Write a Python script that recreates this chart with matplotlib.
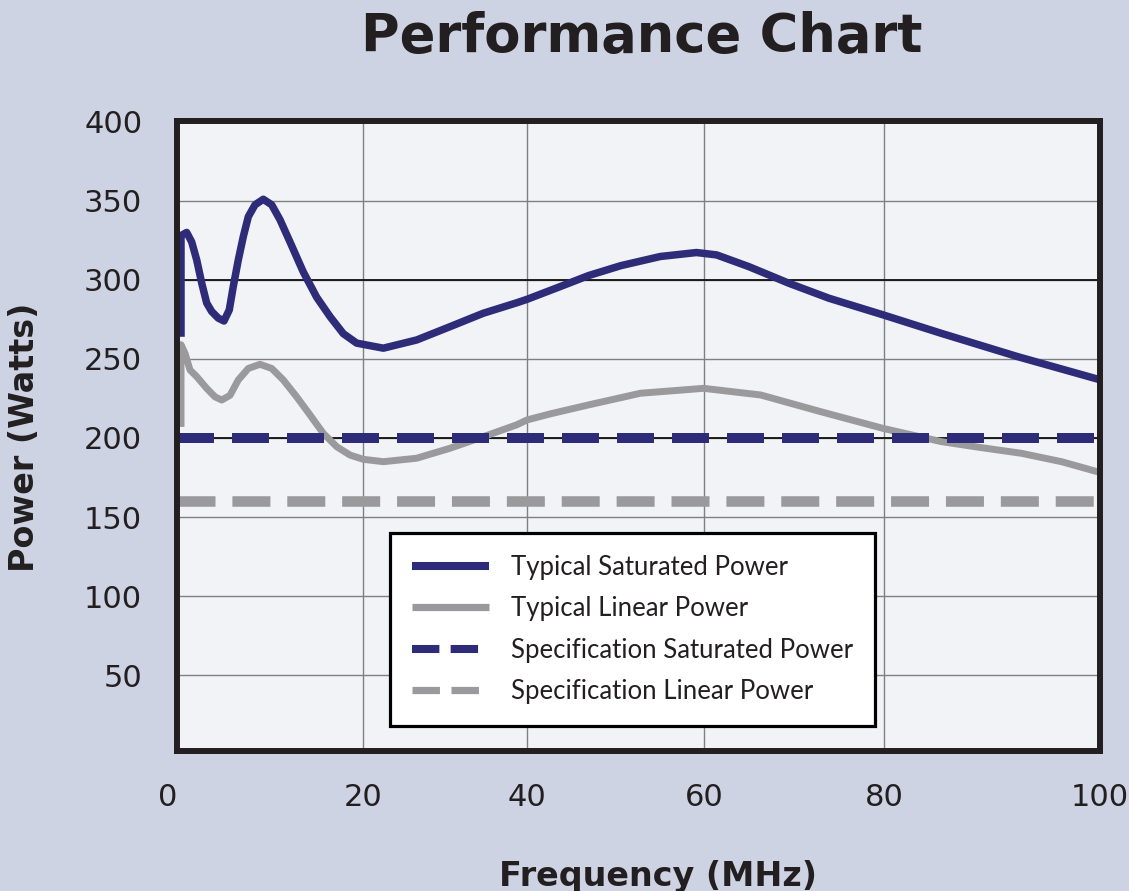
import numpy as np
import matplotlib
matplotlib.use('Agg')
import matplotlib.pyplot as plt
from matplotlib.lines import Line2D

# values (frequency in MHz, power in Watts)
sat_freq = [0.43, 0.43, 1.04, 1.58, 2.12, 2.66, 3.19, 3.73, 4.44, 5.05, 5.62, 6.05,
            6.59, 7.13, 7.67, 8.39, 9.28, 10.18, 11.08, 12.15, 13.58, 15.02, 16.45,
            17.88, 19.32, 20.85, 22.48, 26.55, 30.61, 34.67, 38.74, 40.0, 43.77,
            46.94, 50.6, 55.07, 59.15, 61.4, 64.97, 69.42, 73.88, 79.94, 85.3,
            92.35, 100.0]
sat_power = [264, 328, 330, 324, 312.6, 297.9, 285.4, 280, 275.8, 274, 281, 295.8,
             312.6, 327.4, 340, 347.5, 351, 347.5, 338, 324, 305, 289, 276.8,
             266, 260, 258.4, 256.8, 262, 270.4, 278.9, 285.5, 287.7, 295.8,
             302.7, 309, 314.8, 317.3, 315.8, 308.4, 297.9, 288.4, 277.8, 266.2,
             251.5, 236.8]

lin_freq = [0.43, 0.43, 0.86, 1.40, 2.12, 3.19, 4.09, 4.81, 5.70, 6.59, 7.67, 8.92,
            10.18, 11.43, 12.87, 14.30, 15.73, 17.17, 18.60, 20.03, 20.85, 22.48,
            26.55, 30.61, 34.67, 38.74, 40.0, 42.6, 46.94, 52.83, 59.95, 66.3,
            72.99, 79.94, 85.3, 89.0, 92.73, 96.44, 100.0]
lin_power = [207, 259, 253.6, 243, 238.8, 231.4, 226, 224, 227, 236.7, 244, 246.6,
             244, 236.7, 226, 214.6, 202.9, 194.5, 189.2, 186.5, 186, 185,
             187.2, 193.5, 200.8, 208.3, 211.4, 215.2, 220.9, 228.3, 231.4, 227.2,
             216.6, 206, 197.7, 193.9, 190.3, 185, 178.2]

spec_freq = [0, 100]
spec_sat = [200, 200]
spec_lin = [160, 160]

x_ticks = [0, 20, 40, 60, 80, 100]
y_ticks = [50, 100, 150, 200, 250, 300, 350, 400]
labels = ['Typical Saturated Power', 'Typical Linear Power',
          'Specification Saturated Power', 'Specification Linear Power']

# the printed frequency axis is not evenly spaced
x_knots = [0, 20, 40, 60, 80, 100]
x_pix = [177, 363, 527, 704, 884, 1100]

def fwd(f):
    return np.interp(f, x_knots, x_pix)

def inv(p):
    return np.interp(p, x_pix, x_knots)

navy = '#2e2c79'
grey = '#9a9a9c'
ink = '#231f20'

fig = plt.figure(figsize=(11.29, 8.91), dpi=100, facecolor='#cdd3e2')
ax = fig.add_axes([177/1129, 140/891, 923/1129, 630/891])
ax.set_facecolor('#f1f3f7')
ax.set_xscale('function', functions=(fwd, inv))
ax.set_xlim(0, 100)
ax.set_ylim(2, 400.5)

ax.set_axisbelow(True)
ax.grid(True, color='#808080', lw=1.0)
ax.axhline(300, color='#111111', lw=1.3, zorder=1)
ax.axhline(200, color='#111111', lw=1.3, zorder=1)

ax.plot(sat_freq, sat_power, color=navy, lw=5.4, solid_capstyle='butt', solid_joinstyle='round', zorder=4)
ax.plot(lin_freq, lin_power, color=grey, lw=5.0, solid_capstyle='butt', solid_joinstyle='round', zorder=3)
ax.plot(spec_freq, spec_sat, color=navy, lw=7.2, dashes=(3.7, 1.8), zorder=3)
ax.plot(spec_freq, spec_lin, color=grey, lw=7.6, dashes=(3.6, 1.6), zorder=3)

for s in ax.spines.values():
    s.set_linewidth(4.3)
    s.set_color(ink)
    s.set_zorder(6)

ax.set_xticks(x_ticks)
ax.set_xticklabels([str(t) for t in x_ticks])
ax.set_yticks(y_ticks)
ax.set_yticklabels([str(t) for t in y_ticks])
ax.tick_params(axis='x', length=0, pad=23, labelsize=22, labelcolor=ink)
ax.tick_params(axis='y', length=0, pad=25, labelsize=22, labelcolor=ink)
ax.get_xticklabels()[0].set_ha('right')

handles = [Line2D([], [], color=navy, lw=5.8, solid_capstyle='butt'),
           Line2D([], [], color=grey, lw=5.2, solid_capstyle='butt'),
           Line2D([], [], color=navy, lw=5.8, dashes=(3.4, 1.4)),
           Line2D([], [], color=grey, lw=5.2, dashes=(3.8, 1.6))]
leg = ax.legend(handles, labels, loc='upper left', bbox_to_anchor=((390-177)/923, (751-533)/630),
                borderaxespad=0, prop={'family': 'Lato', 'size': 18.5}, handlelength=3.0,
                handletextpad=0.85, labelspacing=0.64, borderpad=0.85, fancybox=False,
                framealpha=1, edgecolor='black', facecolor='white')
leg.get_frame().set_linewidth(2.3)
leg.set_zorder(7)
for t in leg.get_texts():
    t.set_color(ink)

fig.text(642/1129, 1 - 52/891, 'Performance Chart', ha='center', va='baseline',
         fontsize=38, fontweight='bold', color=ink)
fig.text(25/1129, 1 - 437/891, 'Power (Watts)', rotation=90, ha='center', va='center',
         fontsize=24, fontweight='bold', color=ink)
fig.text(658/1129, 1 - 886/891, 'Frequency (MHz)', ha='center', va='baseline',
         fontsize=24, fontweight='bold', color=ink)

fig.savefig('out.png', dpi=100, facecolor=fig.get_facecolor())
